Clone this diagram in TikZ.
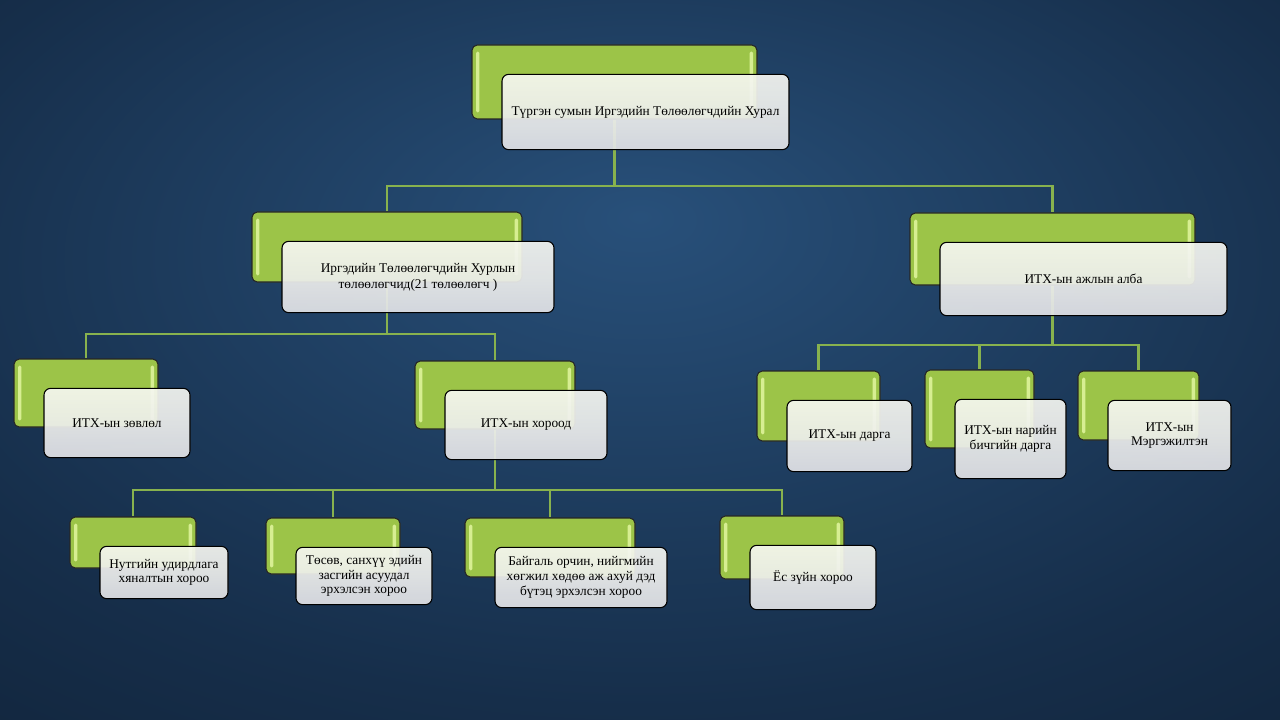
\documentclass[tikz,border=0pt]{standalone}
\usepackage{fontspec}
\setmainfont{Liberation Serif}
\usetikzlibrary{positioning,backgrounds}

\definecolor{bgin}{RGB}{40,80,122}
\definecolor{bgmid}{RGB}{22,46,74}
\definecolor{bgout}{RGB}{7,15,27}
\definecolor{leaf}{RGB}{156,196,72}
\definecolor{leafhi}{RGB}{226,246,160}
\definecolor{linkgreen}{RGB}{136,178,78}
\definecolor{paneltop}{RGB}{246,247,241}
\definecolor{panelbot}{RGB}{226,227,231}

\pgfdeclareradialshading{slidebg}{\pgfpoint{0bp}{10bp}}{color(0bp)=(bgin); color(30bp)=(bgmid); color(72bp)=(bgout)}

\pgfdeclarelayer{back}
\pgfsetlayers{background,back,main}

% green tab with a white panel on it
\newcommand{\orgunit}[7][]{%
  \node[greenbox, minimum width=#5*0.75pt, minimum height=#6*0.75pt] (g#2) at (#3,#4) {};
  \node[whitebox, minimum width=#5*0.75pt+1.5pt, minimum height=#6*0.75pt+1pt, #1]
    (w#2) at ([xshift=31*0.75pt, yshift=-30*0.75pt]g#2.center) {#7};
}

\begin{document}
\begin{tikzpicture}[x=0.75pt,y=-0.75pt]
  \tikzstyle{greenbox}=[draw=black!85, line width=0.8pt, fill=leaf, rounded corners=4pt,
    path picture={
      \fill[leafhi, opacity=0.85, rounded corners=1pt]
        ([xshift=3pt,yshift=5pt]path picture bounding box.south west) rectangle
        ([xshift=5.5pt,yshift=-5pt]path picture bounding box.north west);
      \fill[leafhi, opacity=0.85, rounded corners=1pt]
        ([xshift=-3pt,yshift=5pt]path picture bounding box.south east) rectangle
        ([xshift=-5.5pt,yshift=-5pt]path picture bounding box.north east);}]
  \tikzstyle{whitebox}=[draw=black, line width=0.8pt, rounded corners=5pt,
    top color=paneltop, bottom color=panelbot, middle color=paneltop!60!panelbot,
    fill opacity=0.92, text opacity=1, align=center, inner sep=2pt,
    font=\fontsize{10}{11}\selectfont]
  \tikzstyle{link}=[draw=linkgreen, line width=2.2pt]
  \tikzstyle{big}=[font=\fontsize{10}{12}\selectfont]

  \begin{pgfonlayer}{background}
    \shade[shading=slidebg] (0,0) rectangle (1280,720);
  \end{pgfonlayer}
  \useasboundingbox (0,0) rectangle (1280,720);

  \orgunit[big]{0}{614.5}{82}{285}{74}{Түргэн сумын Иргэдийн Төлөөлөгчдийн Хурал}
  \orgunit[big]{1}{387}{247}{270}{70}{Иргэдийн Төлөөлөгчдийн Хурлын\\төлөөлөгчид(21 төлөөлөгч )}
  \orgunit[big]{2}{1052.5}{249}{285}{72}{ИТХ-ын ажлын алба}
  \orgunit{11}{86}{393}{144}{68}{ИТХ-ын зөвлөл}
  \orgunit{12}{495}{395}{160}{68}{ИТХ-ын хороод}
  \orgunit{121}{133}{542.5}{126}{51}{Нутгийн удирдлага\\хяналтын хороо}
  \orgunit{122}{333}{546}{134}{56}{Төсөв, санхүү эдийн\\засгийн асуудал\\эрхэлсэн хороо}
  \orgunit{123}{550}{547.5}{170}{59}{Байгаль орчин, нийгмийн\\хөгжил хөдөө аж ахуй дэд\\бүтэц эрхэлсэн хороо}
  \orgunit{124}{782}{547.5}{124}{63}{Ёс зүйн хороо}
  \orgunit{21}{818.5}{406}{123}{70}{ИТХ-ын дарга}
  \orgunit{22}{979.5}{409}{109}{78}{ИТХ-ын нарийн\\бичгийн дарга}
  \orgunit{23}{1138.5}{405.5}{121}{69}{ИТХ-ын\\Мэргэжилтэн}

  \coordinate (bus0) at (614.5,186);
  \coordinate (bus1) at (387,334);
  \coordinate (bus2) at (1052.5,345);
  \coordinate (bus12) at (495,490);

  \begin{pgfonlayer}{back}
    \foreach \p/\c in {0/1,0/2,1/11,1/12,2/21,2/22,2/23,12/121,12/122,12/123,12/124}
      \draw[link] (g\p.south) -- (bus\p) -| (g\c.north);
  \end{pgfonlayer}
\end{tikzpicture}
\end{document}
